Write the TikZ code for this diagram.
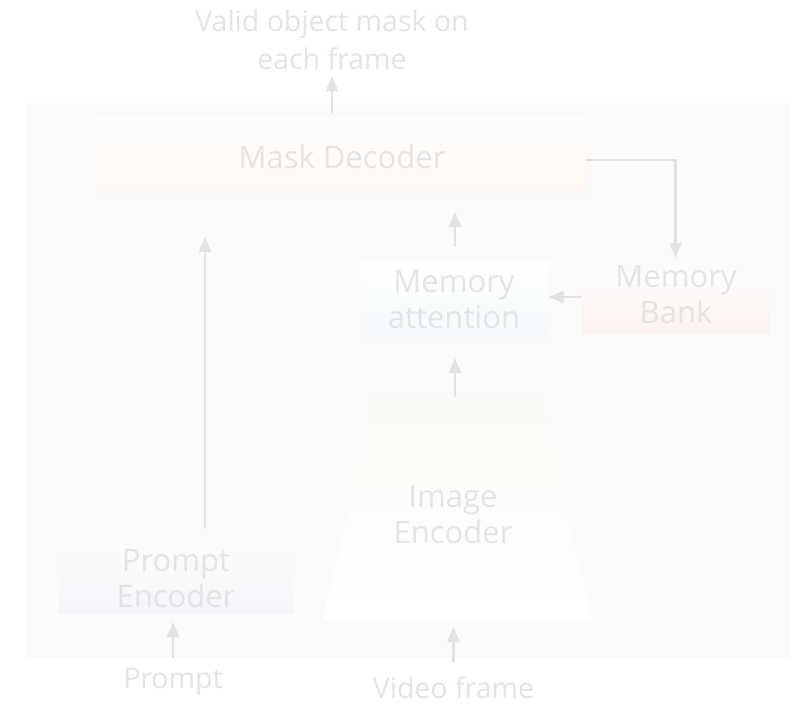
\documentclass[tikz,border=0pt]{standalone}
\usepackage{fontspec}
\setmainfont{Open Sans}
\usetikzlibrary{arrows.meta,calc}
\definecolor{ink}{HTML}{E4E4E4}
\definecolor{wire}{HTML}{E2E2E2}
\definecolor{panelbg}{HTML}{FBFBFB}
\begin{document}
\begin{tikzpicture}[x=1pt,y=-1pt,
  boxtext/.style={font=\fontsize{31}{36}\selectfont, text=ink, align=center, inner sep=0pt},
  lbltext/.style={font=\fontsize{28.5}{38}\selectfont, text=ink, align=center, inner xsep=0pt},
  block/.style={rectangle, draw=none, inner sep=0pt, outer sep=0pt},
  arr/.style={draw=wire, line width=2.4pt, -{Triangle[length=15pt,width=12pt]}},
  wireline/.style={draw=wire, line width=2.4pt}]
  \useasboundingbox (0,0) rectangle (797,705);
  \fill[white] (0,0) rectangle (797,705);
  % framework panel
  \fill[panelbg] (25,103) rectangle (791,658);

  % Mask decoder
  \node[block, minimum width=490pt, minimum height=76pt,
        top color={rgb,255:red,254;green,253;blue,252}, bottom color={rgb,255:red,254;green,249;blue,245}]
        (dec) at (341,155) {};
  \node[boxtext] (declbl) at (342,157) {Mask Decoder};

  % Memory attention
  \node[block, minimum width=187pt, minimum height=75pt,
        top color=white, bottom color={rgb,255:red,245;green,250;blue,252}]
        (mematt) at (455,298.5) {};
  \node[boxtext] (mattlbl) at (454,300) {Memory\\attention};

  % Memory bank
  \node[block, minimum width=187pt, minimum height=61pt,
        top color={rgb,255:red,253;green,253;blue,253}, bottom color={rgb,255:red,252;green,243;blue,240}]
        (membank) at (675.5,302.5) {};
  \node[boxtext] (banklbl) at (676,295) {Memory\\Bank};

  % Prompt encoder
  \node[block, minimum width=234pt, minimum height=71pt,
        top color={rgb,255:red,252;green,252;blue,252}, bottom color={rgb,255:red,246;green,244;blue,249}]
        (penc) at (176,577.5) {};
  \node[boxtext] (penclbl) at (176,579) {Prompt\\Encoder};

  % Image encoder (trapezoid, wide at the bottom)
  \shade[top color={rgb,255:red,250;green,251;blue,246}, bottom color=white]
        (373,399) -- (539,399) -- (593,620) -- (323,620) -- cycle;
  \node[block, minimum width=166pt, minimum height=221pt] (imgenc) at (457,509.5) {};
  \node[boxtext] (imglbl) at (453,515) {Image\\Encoder};

  % outside labels
  \node[lbltext, inner ysep=6pt] (outlbl) at (332,40) {Valid object mask on\\each frame};
  \node[lbltext, inner ysep=9.5pt, anchor=base] (plbl) at (173,688) {Prompt};
  \node[lbltext, inner ysep=14pt, anchor=base] (vlbl) at (453.5,698) {Video frame};

  % connectors
  \draw[arr, shorten <=4pt] (dec.north -| outlbl) -- (outlbl.south);
  \draw[arr, shorten <=14pt, shorten >=19pt] (mematt.north) -- (mematt.north |- dec.south);
  \draw[arr, shorten <=2pt, shorten >=22pt] (imgenc.north -| mematt) -- (mematt.south);
  \draw[arr, shorten >=14pt] ($(dec.east)+(0,5)$) -| (membank.north);
  \draw[arr] (membank.west |- 0,297) -- (mematt.east |- 0,297);
  \draw[arr, shorten <=14pt, shorten >=44pt] ($(penc.north)+(29,0)$) coordinate (pup) -- (pup |- dec.south);
  \draw[arr, shorten >=9pt] (plbl.north) -- (penc.south -| plbl);
  \draw[arr, shorten >=7pt] (vlbl.north) -- (imgenc.south -| vlbl);
\end{tikzpicture}
\end{document}
